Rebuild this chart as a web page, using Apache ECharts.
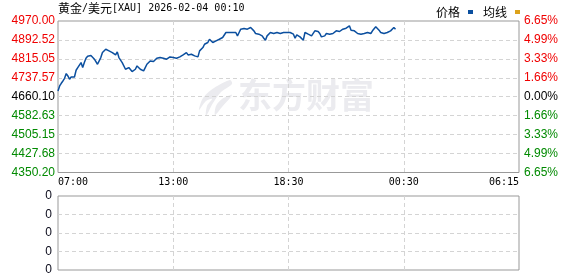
<!DOCTYPE html>
<html>
<head>
<meta charset="utf-8">
<script src="https://cdn.jsdelivr.net/npm/echarts@6/dist/echarts.min.js"></script>
<style>html,body{margin:0;padding:0;background:#fff;}#chart{width:578px;height:276px;}</style>
</head>
<body>
<div id="chart"></div>
<script>
const titleCn1 = '黄金';
const titleCn2 = '美元';
const titleEn = '[XAU] 2026-02-04 00:10';
const timeLabels = ['07:00', '13:00', '18:30', '00:30', '06:15'];
const priceTicks = ['4350.20', '4427.68', '4505.15', '4582.63', '4660.10', '4737.57', '4815.05', '4892.52', '4970.00'];
const pctTicks = ['6.65%', '4.99%', '3.33%', '1.66%', '0.00%', '1.66%', '3.33%', '4.99%', '6.65%'];
const volTicks = ['0', '0', '0', '0', '0'];
const priceMin = 4350.20;
const priceMax = 4970.00;
const priceStep = 77.475;
// price samples every 5 minutes from 07:00
const prices = [
 4683.8, 4704.3, 4715.2, 4724.7, 4735.7, 4754.8, 4745.2, 4731.6, 4741.1, 4734.3,
 4741.1, 4768.5, 4779.4, 4784.9, 4799.9, 4779.4, 4799.9, 4817.6, 4825.9, 4825.9,
 4828.6, 4827.2, 4814.9, 4812.2, 4793.1, 4793.1, 4820.4, 4840.9, 4847.7, 4854.5,
 4851.8, 4847.7, 4847.7, 4840.9, 4847.7, 4831.3, 4843.6, 4820.4, 4813.6, 4799.9,
 4793.1, 4772.6, 4779.4, 4779.4, 4782.1, 4763.0, 4758.9, 4772.6, 4786.2, 4779.4,
 4772.6, 4772.6, 4765.7, 4779.4, 4793.1, 4799.9, 4806.7, 4809.5, 4804.0, 4809.5,
 4817.6, 4823.1, 4820.4, 4813.6, 4817.6, 4809.5, 4813.6, 4820.4, 4823.1, 4817.6,
 4820.4, 4813.6, 4817.6, 4820.4, 4823.1, 4827.2, 4831.3, 4834.1, 4840.9, 4831.3,
 4827.2, 4834.1, 4830.0, 4827.2, 4823.1, 4823.1, 4847.7, 4854.5, 4861.4, 4875.0,
 4875.0, 4881.9, 4895.5, 4888.7, 4881.9, 4886.0, 4888.7, 4888.7, 4895.5, 4899.6,
 4902.4, 4909.2, 4922.9, 4929.7, 4922.9, 4929.7, 4922.9, 4927.0, 4922.9, 4909.2,
 4922.9, 4936.5, 4940.6, 4939.3, 4936.5, 4936.5, 4940.6, 4943.4, 4936.5, 4929.7,
 4918.8, 4922.9, 4916.0, 4913.3, 4909.2, 4899.6, 4891.4, 4909.2, 4916.0, 4922.9,
 4922.9, 4918.8, 4918.8, 4922.9, 4927.0, 4918.8, 4922.9, 4922.9, 4918.8, 4922.9,
 4921.5, 4922.9, 4922.9, 4916.0, 4899.6, 4913.3, 4916.0, 4905.1, 4899.6, 4891.4,
 4922.9, 4918.8, 4916.0, 4909.2, 4909.2, 4905.1, 4929.7, 4932.4, 4927.0, 4918.8,
 4905.1, 4899.6, 4909.2, 4918.8, 4918.8, 4916.0, 4918.8, 4918.8, 4918.8, 4929.7,
 4927.0, 4927.0, 4932.4, 4936.5, 4936.5, 4940.6, 4946.1, 4950.2, 4932.4, 4929.7,
 4929.7, 4927.0, 4918.8, 4922.9, 4916.0, 4909.2, 4918.8, 4913.3, 4922.9, 4927.0,
 4918.8, 4929.7, 4932.4, 4946.1, 4943.4, 4932.4, 4922.9, 4927.0, 4918.8, 4913.3,
 4922.9, 4927.0, 4929.7, 4936.5, 4943.4, 4936.5
];
const avgPrices = [];
const slotsPerSegment = 70;
const segments = timeLabels.length - 1;

const RED = '#f00000', GREEN = '#008a00', BLACK = '#000';
const GRID_LINE = '#d4d4d4', BORDER = '#999';
const LINE_BLUE = '#0b4f9f', GOLD = '#dca21a';
const monoFont = "'DejaVu Sans Mono', monospace";
const numFont = "'Liberation Sans', Arial, sans-serif";
const cjkFont = "'Noto Sans CJK SC', sans-serif";

const chart = echarts.init(document.getElementById('chart'), null, {renderer: 'canvas'});

function priceIdx(v) { return Math.round((v - priceMin) / priceStep); }

const dashed = {show: true, lineStyle: {color: GRID_LINE, type: [4, 3], width: 1}, showMinLine: false, showMaxLine: false};

chart.setOption({
  animation: false,
  backgroundColor: '#fff',
  grid: [
    {left: 58, top: 21, width: 461, height: 151.5, show: true, borderColor: BORDER, borderWidth: 1, containLabel: false},
    {left: 58, top: 196, width: 461, height: 74, show: true, borderColor: BORDER, borderWidth: 1, containLabel: false}
  ],
  legend: {
    left: 431, top: 1,
    align: 'right',
    itemWidth: 5, itemHeight: 4, itemGap: 10,
    icon: 'rect',
    selectedMode: false,
    textStyle: {fontFamily: cjkFont, fontSize: 12, color: '#000', padding: [0, 3, 9, 0]},
    data: ['价格', '均线']
  },
  xAxis: [
    {
      gridIndex: 0, type: 'value', min: 0, max: slotsPerSegment * segments, interval: slotsPerSegment,
      axisLine: {show: false}, axisTick: {show: false},
      splitLine: dashed,
      axisLabel: {
        show: true, margin: 5, color: '#000', fontFamily: monoFont, fontSize: 10,
        alignMinLabel: 'left', alignMaxLabel: 'right',
        formatter: v => timeLabels[Math.round(v / slotsPerSegment)]
      }
    },
    {
      gridIndex: 1, type: 'value', min: 0, max: slotsPerSegment * segments, interval: slotsPerSegment,
      axisLine: {show: false}, axisTick: {show: false}, axisLabel: {show: false},
      splitLine: dashed
    }
  ],
  yAxis: [
    {
      gridIndex: 0, type: 'value', min: priceMin, max: priceMax, interval: priceStep, position: 'left',
      axisLine: {show: false}, axisTick: {show: false},
      splitLine: dashed,
      axisLabel: {
        margin: 3, fontFamily: numFont, fontSize: 12,
        formatter: v => priceTicks[priceIdx(v)],
        color: v => { const i = priceIdx(v); return i > 4 ? RED : (i < 4 ? GREEN : BLACK); }
      }
    },
    {
      gridIndex: 0, type: 'value', min: priceMin, max: priceMax, interval: priceStep, position: 'right',
      axisLine: {show: false}, axisTick: {show: false}, splitLine: {show: false},
      axisLabel: {
        margin: 5, fontFamily: numFont, fontSize: 12,
        formatter: v => pctTicks[priceIdx(v)],
        color: v => { const i = priceIdx(v); return i > 4 ? RED : (i < 4 ? GREEN : BLACK); }
      }
    },
    {
      gridIndex: 1, type: 'value', min: 0, max: volTicks.length - 1, interval: 1, position: 'left',
      axisLine: {show: false}, axisTick: {show: false},
      splitLine: dashed,
      axisLabel: {margin: 6, fontFamily: numFont, fontSize: 12, color: '#0a0a1a', formatter: (v) => volTicks[Math.round(v)]}
    }
  ],
  graphic: [
    {
      type: 'text', x: 58, y: 2, silent: true, z: 10,
      style: {
        text: '{c|' + titleCn1 + '}{e|/}{c|' + titleCn2 + '}{e|' + titleEn + '}',
        rich: {
          c: {fontFamily: cjkFont, fontSize: 12, fill: '#000'},
          e: {fontFamily: monoFont, fontSize: 10, fill: '#000'}
        }
      }
    },
    {
      type: 'text', x: 238, y: 78, silent: true, z: -1,
      style: {text: '东方财富', fontFamily: cjkFont, fontSize: 34, fontWeight: 'bold', fill: '#ebebef'}
    },
    {
      type: 'polygon', silent: true, z: -1,
      shape: {points: [[230, 80], [214, 88], [203, 98], [199, 110], [206, 101], [212, 99], [207, 106], [206, 116], [213, 103], [221, 92], [232, 84]], smooth: 0.3},
      style: {fill: '#ebebef'}
    },
    {
      type: 'polygon', silent: true, z: -1,
      shape: {points: [[232, 95], [222, 99], [216, 106], [215, 115], [222, 107]], smooth: 0.3},
      style: {fill: '#ebebef'}
    }
  ],
  series: [
    {
      name: '价格', type: 'line', xAxisIndex: 0, yAxisIndex: 0,
      showSymbol: false, symbol: 'none',
      lineStyle: {color: LINE_BLUE, width: 1.5},
      itemStyle: {color: LINE_BLUE},
      data: prices.map((p, i) => [i, p]),
      z: 5
    },
    {
      name: '均线', type: 'line', xAxisIndex: 0, yAxisIndex: 0,
      showSymbol: false, symbol: 'none',
      lineStyle: {color: GOLD, width: 1},
      itemStyle: {color: GOLD},
      data: avgPrices
    }
  ]
});
</script>
</body>
</html>
